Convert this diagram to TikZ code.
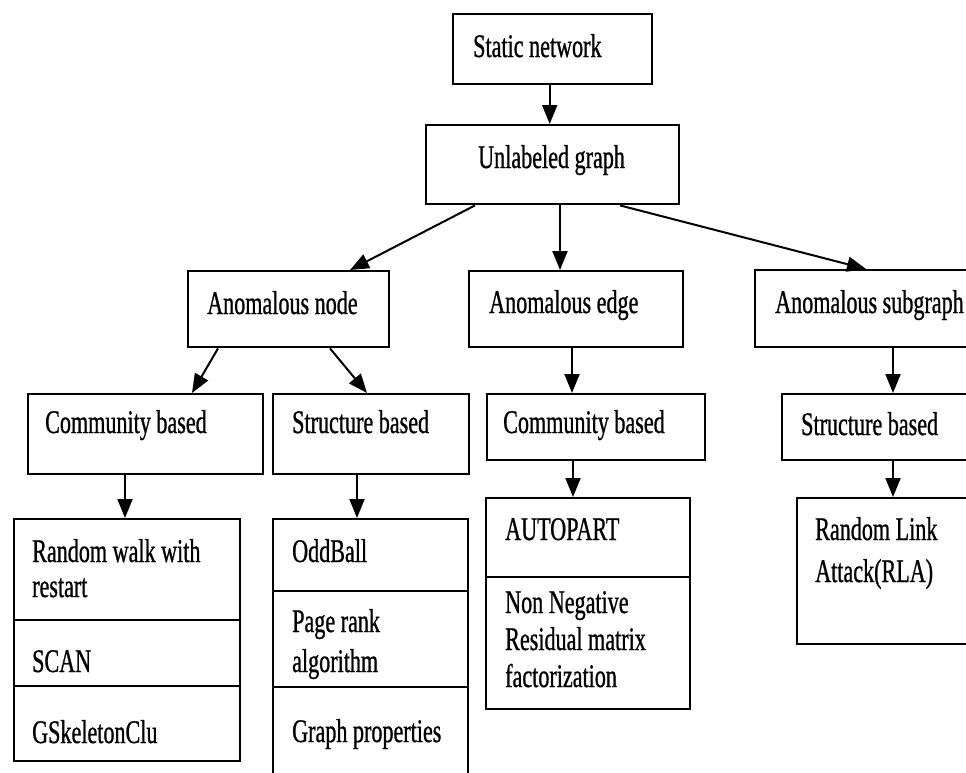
\documentclass[tikz,border=0pt]{standalone}
\usepackage{fontspec}
\setmainfont[FakeStretch=0.67,FakeBold=0.8]{Liberation Serif}
\usetikzlibrary{arrows.meta,calc}
\begin{document}
\begin{tikzpicture}[x=1pt,y=-1pt,
  box/.style={draw=black,line width=2.4pt,rectangle,inner sep=0pt,anchor=north west},
  lbl/.style={anchor=base west,inner sep=0pt,align=left,font=\fontsize{33}{37}\selectfont},
  arr/.style={draw=black,line width=2pt,-{Triangle[length=19pt,width=15pt]}}]
\useasboundingbox (0,0) rectangle (966,772);
\clip (0,0) rectangle (966,772);
% level 0/1
\node[box,minimum width=199pt,minimum height=70pt] (sn) at (452,13) {};
\node[lbl] (snt) at (473,57) {Static network};
\node[box,minimum width=253pt,minimum height=79pt] (ug) at (425,124) {};
\node[lbl] (ugt) at (478,168) {Unlabeled graph};
% level 2
\node[box,minimum width=201pt,minimum height=76pt] (an) at (187,270) {};
\node[lbl] (ant) at (207,314) {Anomalous node};
\node[box,minimum width=214pt,minimum height=76pt] (ae) at (468,270) {};
\node[lbl] (aet) at (489,313) {Anomalous edge};
\node[box,minimum width=236pt,minimum height=77pt] (as) at (754,269) {};
\node[lbl] (ast) at (775,313) {Anomalous subgraph};
% level 3
\node[box,minimum width=235pt,minimum height=80pt] (cb1) at (27,393) {};
\node[lbl] (cb1t) at (45,433) {Community based};
\node[box,minimum width=196pt,minimum height=80pt] (sb1) at (272,393) {};
\node[lbl] (sb1t) at (292,433) {Structure based};
\node[box,minimum width=218pt,minimum height=66pt] (cb2) at (486,393) {};
\node[lbl] (cb2t) at (503,433) {Community based};
\node[box,minimum width=209pt,minimum height=66pt] (sb2) at (781,393) {};
\node[lbl] (sb2t) at (801,435) {Structure based};
% lists
\node[box,minimum width=226pt,minimum height=101pt] (l1a) at (13,518) {};
\node[box,minimum width=226pt,minimum height=66pt] (l1b) at (13,619) {};
\node[box,minimum width=226pt,minimum height=75pt] (l1c) at (13,685) {};
\node[lbl,font=\fontsize{33}{35}\selectfont] (l1at) at (32,597) {Random walk with\\restart};
\node[lbl] (l1bt) at (32,672) {SCAN};
\node[lbl] (l1ct) at (32,743) {GSkeletonClu};
\node[box,minimum width=195pt,minimum height=72pt] (l2a) at (272,518) {};
\node[box,minimum width=195pt,minimum height=96pt] (l2b) at (272,590) {};
\node[box,minimum width=195pt,minimum height=104pt] (l2c) at (272,686) {};
\node[lbl] (l2at) at (292,562) {OddBall};
\node[lbl,font=\fontsize{33}{40}\selectfont] (l2bt) at (292,672) {Page rank\\algorithm};
\node[lbl] (l2ct) at (292,742) {Graph properties};
\node[box,minimum width=204pt,minimum height=79pt] (l3a) at (485,497) {};
\node[box,minimum width=204pt,minimum height=132pt] (l3b) at (485,576) {};
\node[lbl] (l3at) at (505,540) {AUTOPART};
\node[lbl,font=\fontsize{33}{37}\selectfont] (l3bt) at (505,687) {Non Negative\\Residual matrix\\factorization};
\node[box,minimum width=194pt,minimum height=146pt] (rla) at (796,497) {};
\node[lbl,font=\fontsize{33}{42}\selectfont] (rlat) at (815,582) {Random Link\\Attack(RLA)};
% connectors
\draw[arr] ($(sn.south)+(-3,0)$) coordinate (p0) -- (p0 |- ug.north);
\draw[arr] ($(ug.south west)+(50,0)$) -- ($(an.north west)+(163,0)$);
\draw[arr] ($(ug.south west)+(135,0)$) coordinate (p1) -- (p1 |- ae.north);
\draw[arr] ($(ug.south west)+(195,0)$) -- ($(as.north west)+(112,0)$);
\draw[arr] ($(an.south west)+(31,0)$) -- ($(cb1.north west)+(165,0)$);
\draw[arr] ($(an.south west)+(143,0)$) -- ($(sb1.north west)+(95,0)$);
\draw[arr] ($(ae.south west)+(104,0)$) coordinate (p2) -- (p2 |- cb2.north);
\draw[arr] ($(as.south west)+(139,0)$) coordinate (p3) -- (p3 |- sb2.north);
\draw[arr] ($(cb1.south west)+(98,0)$) coordinate (p4) -- (p4 |- l1a.north);
\draw[arr] ($(sb1.south west)+(85,0)$) coordinate (p5) -- (p5 |- l2a.north);
\draw[arr] ($(cb2.south west)+(87,0)$) coordinate (p6) -- (p6 |- l3a.north);
\draw[arr] ($(sb2.south west)+(112,0)$) coordinate (p7) -- (p7 |- rla.north);
\end{tikzpicture}
\end{document}
